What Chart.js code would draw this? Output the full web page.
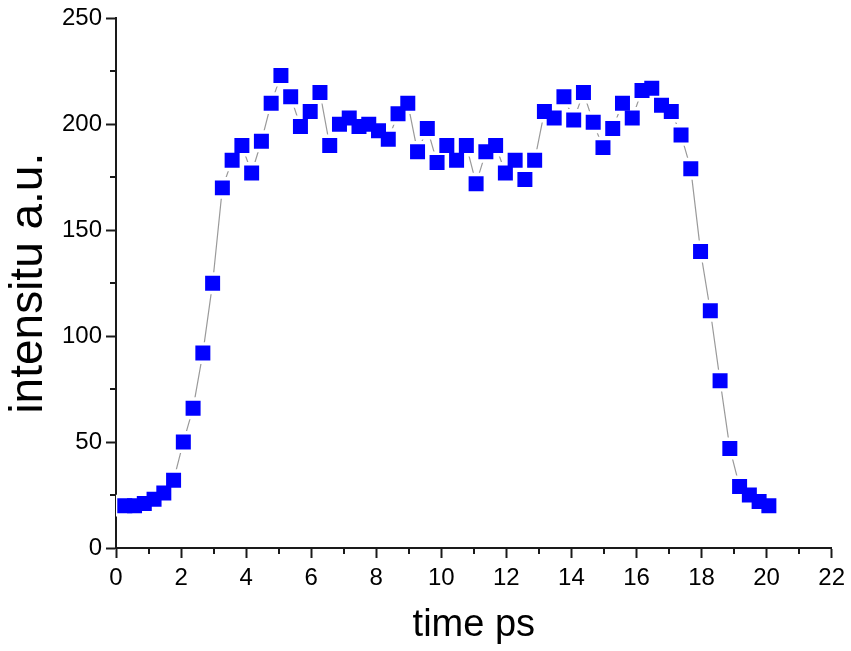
<!DOCTYPE html>
<html>
<head>
<meta charset="utf-8">
<script src="https://cdn.jsdelivr.net/npm/chart.js@4/dist/chart.umd.min.js"></script>
<style>
  html, body { margin: 0; padding: 0; background: #ffffff; }
  #wrap { width: 851px; height: 651px; position: relative; }
</style>
</head>
<body>
<div id="wrap"><canvas id="c" width="851" height="651"></canvas></div>
<script>
// time (ps) of each sample
const timePs = [
  0.27, 0.57, 0.87, 1.17, 1.47, 1.77, 2.07, 2.37, 2.67, 2.97,
  3.27, 3.57, 3.87, 4.17, 4.47, 4.77, 5.07, 5.37, 5.67, 5.97,
  6.27, 6.57, 6.87, 7.17, 7.47, 7.77, 8.07, 8.37, 8.67, 8.97,
  9.27, 9.57, 9.87, 10.17, 10.47, 10.77, 11.07, 11.37, 11.67, 11.97,
  12.27, 12.57, 12.87, 13.17, 13.47, 13.77, 14.07, 14.37, 14.67, 14.97,
  15.27, 15.57, 15.87, 16.17, 16.47, 16.77, 17.07, 17.37, 17.67, 17.97,
  18.27, 18.57, 18.87, 19.17, 19.47, 19.77, 20.07
];
// intensity (a.u.)
const intensity = [
  20, 20, 21, 23, 26, 32, 50, 66, 92, 125,
  170, 183, 190, 177, 192, 210, 223, 213, 199, 206,
  215, 190, 200, 203, 199, 200, 197, 193, 205, 210,
  187, 198, 182, 190, 183, 190, 172, 187, 190, 177,
  183, 174, 183, 206, 203, 213, 202, 215, 201, 189,
  198, 210, 203, 216, 217, 209, 206, 195, 179, 140,
  112, 79, 47, 29, 25, 22, 20
];
const xTicks = [0, 2, 4, 6, 8, 10, 12, 14, 16, 18, 20, 22];
const xMinorTicks = [1, 3, 5, 7, 9, 11, 13, 15, 17, 19, 21];
const yTicks = [0, 50, 100, 150, 200, 250];
const yMinorTicks = [25, 75, 125, 175, 225];
const xTitle = 'time ps';
const yTitle = 'intensitu a.u.';

const points = timePs.map((t, i) => ({ x: t, y: intensity[i] }));

const AXIS_COLOR = '#1a1a1a';
const FONT = "'Liberation Sans', Arial, sans-serif";

const minorTicksPlugin = {
  id: 'minorTicks',
  afterDraw(chart) {
    const ctx = chart.ctx;
    const xs = chart.scales.x, ys = chart.scales.y;
    ctx.save();
    ctx.strokeStyle = AXIS_COLOR;
    ctx.lineWidth = 2;
    ctx.beginPath();
    xMinorTicks.forEach(v => {
      const px = Math.round(xs.getPixelForValue(v));
      ctx.moveTo(px, ys.bottom);
      ctx.lineTo(px, ys.bottom + 6);
    });
    yMinorTicks.forEach(v => {
      const py = Math.round(ys.getPixelForValue(v));
      ctx.moveTo(xs.left, py);
      ctx.lineTo(xs.left - 6, py);
    });
    ctx.stroke();
    ctx.restore();
  }
};

new Chart(document.getElementById('c'), {
  type: 'scatter',
  data: {
    datasets: [
      {
        label: 'markers',
        data: points,
        order: 0,
        showLine: false,
        pointStyle: 'rect',
        pointRadius: 10.6,
        pointHoverRadius: 10.6,
        pointBackgroundColor: '#0000ff',
        pointBorderColor: '#0000ff',
        pointBorderWidth: 0
      },
      {
        label: 'gaps',
        data: points,
        order: 1,
        showLine: false,
        pointStyle: 'rect',
        pointRadius: 15.5,
        pointHoverRadius: 15.5,
        pointBackgroundColor: '#ffffff',
        pointBorderColor: '#ffffff',
        pointBorderWidth: 0
      },
      {
        label: 'line',
        data: points,
        order: 2,
        showLine: true,
        borderColor: '#9a9a9a',
        borderWidth: 1.2,
        pointRadius: 0,
        pointHoverRadius: 0,
        tension: 0
      }
    ]
  },
  options: {
    responsive: false,
    animation: false,
    events: [],
    layout: { padding: { left: 0, right: 16, top: 18, bottom: 0 } },
    plugins: {
      legend: { display: false },
      tooltip: { enabled: false }
    },
    scales: {
      x: {
        type: 'linear',
        min: 0,
        max: 22,
        afterFit(scale) { scale.height = 103; },
        afterBuildTicks(scale) { scale.ticks = xTicks.map(v => ({ value: v })); },
        border: { display: true, color: AXIS_COLOR, width: 2 },
        grid: {
          drawOnChartArea: false,
          drawTicks: true,
          tickLength: 10,
          tickWidth: 2,
          tickColor: AXIS_COLOR
        },
        ticks: {
          color: '#000000',
          padding: 6,
          maxRotation: 0,
          font: { family: FONT, size: 24 }
        },
        title: {
          display: true,
          text: xTitle,
          color: '#000000',
          font: { family: FONT, size: 38, lineHeight: 1 },
          padding: { top: 0, bottom: 6 }
        }
      },
      y: {
        type: 'linear',
        min: 0,
        max: 250,
        afterFit(scale) { scale.width = 116; },
        afterBuildTicks(scale) { scale.ticks = yTicks.map(v => ({ value: v })); },
        border: { display: true, color: AXIS_COLOR, width: 2 },
        grid: {
          drawOnChartArea: false,
          drawTicks: true,
          tickLength: 10,
          tickWidth: 2,
          tickColor: AXIS_COLOR
        },
        ticks: {
          color: '#000000',
          padding: 4,
          font: { family: FONT, size: 24 }
        },
        title: {
          display: true,
          text: yTitle,
          color: '#000000',
          font: { family: FONT, size: 46, lineHeight: 1 },
          padding: { top: 6, bottom: 0 }
        }
      }
    }
  },
  plugins: [minorTicksPlugin]
});
</script>
</body>
</html>
